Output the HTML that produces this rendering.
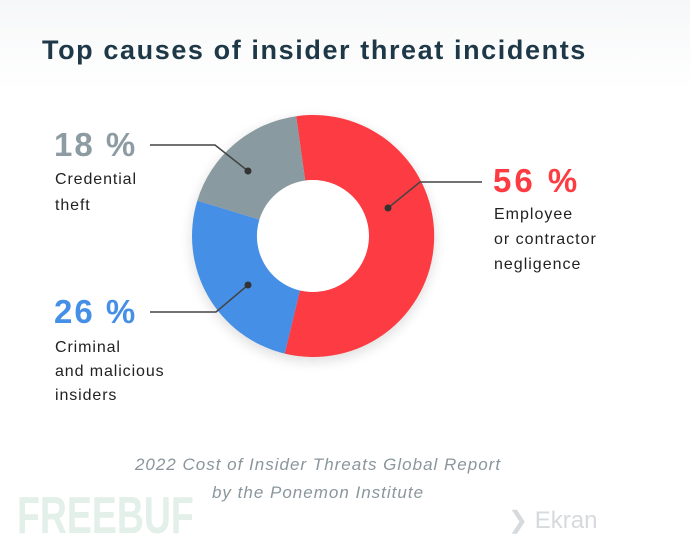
<!DOCTYPE html>
<html><head><meta charset="utf-8"><style>
body{margin:0;width:690px;height:539px;overflow:hidden;background:#fff;font-family:"Liberation Sans",sans-serif;position:relative}
.t{position:absolute;white-space:nowrap}
</style></head><body>
<div style="position:absolute;left:0;top:0;width:690px;height:90px;background:linear-gradient(#f6f7f8,#fff)"></div>
<div class="t" style="left:42px;top:35px;font-size:27px;font-weight:bold;color:#1e3847;letter-spacing:1.6px">Top causes of insider threat incidents</div>
<svg style="position:absolute;left:0;top:0" width="690" height="539">
<defs><filter id="s" x="-20%" y="-20%" width="140%" height="140%"><feGaussianBlur stdDeviation="6"/></filter></defs>
<circle cx="313" cy="240" r="122" fill="#000" opacity="0.12" filter="url(#s)"/>
<path d="M296.2,116.2 A121,121 0 1,1 284.7,353.6 L299.9,290.5 A56,56 0 1,0 305.2,180.5 Z" fill="#fc3c42"/>
<path d="M284.7,353.6 A121,121 0 0,1 197.3,200.6 L259.4,219.6 A56,56 0 0,0 299.9,290.5 Z" fill="#4590e6"/>
<path d="M197.3,200.6 A121,121 0 0,1 296.2,116.2 L305.2,180.5 A56,56 0 0,0 259.4,219.6 Z" fill="#8a9aa1"/>
<circle cx="313" cy="236" r="56" fill="#fff"/>
<g stroke="#444" stroke-width="1.5" fill="none">
<polyline points="248,171 215,145 150,145"/>
<polyline points="388,208 420,182 482,182"/>
<polyline points="248,285 216,312 150,312"/>
</g>
<g fill="#333"><circle cx="248" cy="171" r="3.5"/><circle cx="388" cy="208" r="3.5"/><circle cx="248" cy="285" r="3.5"/></g>
</svg>
<div class="t" style="left:54px;top:126px;font-size:33px;font-weight:bold;color:#8d9ca3;letter-spacing:2px">18 %</div>
<div class="t" style="left:55px;top:167px;font-size:16px;font-weight:500;color:#222;line-height:26px;letter-spacing:0.9px">Credential<br>theft</div>
<div class="t" style="left:54px;top:293px;font-size:33px;font-weight:bold;color:#4590e6;letter-spacing:2px">26 %</div>
<div class="t" style="left:55px;top:336px;font-size:16px;color:#222;line-height:24px;letter-spacing:0.9px">Criminal<br>and malicious<br>insiders</div>
<div class="t" style="left:493px;top:162px;font-size:33px;font-weight:bold;color:#fc3c42;letter-spacing:3px">56 %</div>
<div class="t" style="left:494px;top:202px;font-size:16px;color:#222;line-height:25px;letter-spacing:1px">Employee<br>or contractor<br>negligence</div>
<div class="t" style="left:0;width:636px;text-align:center;top:451px;font-size:17px;font-style:italic;color:#8a969c;line-height:28px;letter-spacing:1px">2022 Cost of Insider Threats Global Report<br>by the Ponemon Institute</div>
<div class="t" style="left:17px;top:486px;font-size:52px;font-weight:bold;color:#e3efe9;transform:scaleX(0.72);transform-origin:left">FREEBUF</div>
<div class="t" style="left:508px;top:506px;font-size:24px;color:#d6dadd">❯ Ekran</div>
</body></html>
